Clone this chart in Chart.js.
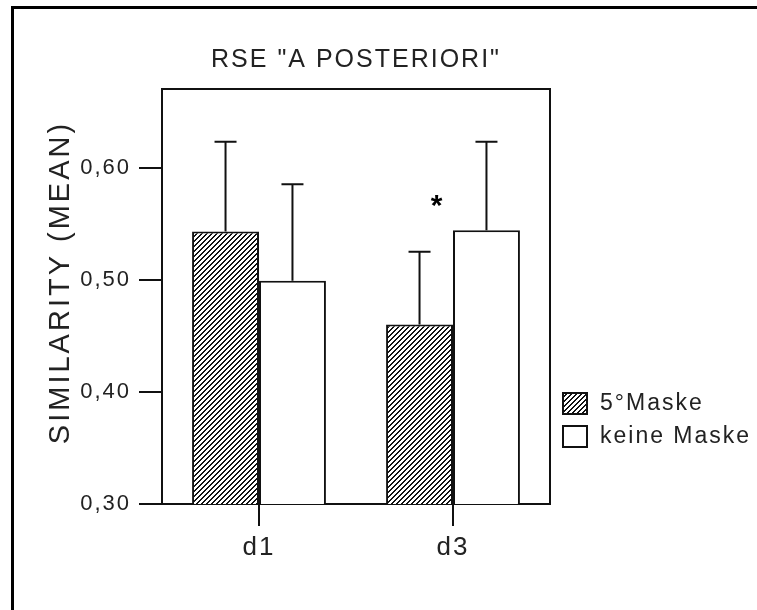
<!DOCTYPE html>
<html>
<head>
<meta charset="utf-8">
<script src="https://cdn.jsdelivr.net/npm/chart.js@4.4.1/dist/chart.umd.min.js"></script>
<style>
  html, body { margin: 0; padding: 0; background: #fff; overflow: hidden; }
  #frame { position: absolute; left: 11px; top: 6px; width: 760px; height: 620px;
           border-left: 3px solid #000; border-top: 3px solid #000; }
  #wrap { position: absolute; left: 0; top: 0; width: 757px; height: 610px; }
</style>
</head>
<body>
<div id="frame"></div>
<div id="wrap"><canvas id="myChart" width="757" height="610"></canvas></div>
<script>
// Werte
const categories = ['d1', 'd3'];
const seriesLabels = ['5°Maske', 'keine Maske'];
const maske5 = [0.543, 0.460];
const maske5Err = [0.080, 0.065];
const keineMaske = [0.499, 0.544];
const keineMaskeErr = [0.086, 0.079];
const starLevel = [null, 0.573];   // "*" über 5°Maske bei d3
const yTicks = [0.30, 0.40, 0.50, 0.60];
const yTickLabels = ['0,30', '0,40', '0,50', '0,60'];
const yTitle = 'SIMILARITY (MEAN)';

(()=>{
  const FONT = "'Liberation Sans', Arial, sans-serif";
  Chart.defaults.font.family = FONT;
  Chart.defaults.color = '#222';

  // Schraffur "/" für 5°Maske
  function hatch() {
    const c = document.createElement('canvas');
    c.width = 5; c.height = 5;
    const g = c.getContext('2d');
    g.fillStyle = '#fff'; g.fillRect(0, 0, 5, 5);
    g.fillStyle = '#111';
    for (let i = 0; i < 5; i++) {
      g.fillRect(i, 4 - i, 1, 1);
      g.fillRect(i, (5 - i) % 5, 1, 1);
    }
    return g.createPattern(c, 'repeat');
  }

  const spacing = {
    id: 'spacing',
    beforeDraw(chart) { chart.ctx.save(); chart.ctx.letterSpacing = '2px'; },
    afterDraw(chart) { chart.ctx.restore(); }
  };

  const box = {
    id: 'box',
    afterDatasetsDraw(chart) {
      const ctx = chart.ctx, a = chart.chartArea;
      ctx.save();
      ctx.strokeStyle = '#111'; ctx.lineWidth = 2;
      ctx.beginPath();
      ctx.moveTo(a.left, a.top); ctx.lineTo(a.right, a.top); ctx.lineTo(a.right, a.bottom);
      ctx.stroke();
      // Achsentitel (etwas oberhalb der Mitte wie im Original)
      ctx.translate(a.left - 101, (a.top + a.bottom) / 2 - 14);
      ctx.rotate(-Math.PI / 2);
      ctx.letterSpacing = '3px';
      ctx.font = '29px ' + FONT;
      ctx.fillStyle = '#222';
      ctx.textAlign = 'center';
      ctx.textBaseline = 'middle';
      ctx.fillText(yTitle, 0, 0);
      ctx.restore();
    }
  };

  const errorBars = {
    id: 'errorBars',
    afterDatasetsDraw(chart) {
      const ctx = chart.ctx, y = chart.scales.y;
      ctx.save();
      ctx.strokeStyle = '#111'; ctx.lineWidth = 2;
      chart.data.datasets.forEach((ds, i) => {
        chart.getDatasetMeta(i).data.forEach((bar, j) => {
          const top = y.getPixelForValue(ds.data[j] + ds.err[j]);
          ctx.beginPath();
          ctx.moveTo(bar.x, bar.y); ctx.lineTo(bar.x, top);
          ctx.moveTo(bar.x - 11, top); ctx.lineTo(bar.x + 11, top);
          ctx.stroke();
        });
      });
      // Signifikanzstern
      const meta = chart.getDatasetMeta(0);
      ctx.fillStyle = '#000';
      ctx.font = 'bold 30px ' + FONT;
      ctx.textAlign = 'center';
      ctx.textBaseline = 'alphabetic';
      starLevel.forEach((v, j) => {
        if (v === null) return;
        ctx.fillText('*', meta.data[j].x + 18, y.getPixelForValue(v) + 17);
      });
      ctx.restore();
    }
  };

  const sideLegend = {
    id: 'sideLegend',
    afterDraw(chart) {
      const ctx = chart.ctx, a = chart.chartArea;
      ctx.save();
      ctx.letterSpacing = '2px';
      ctx.font = '23px ' + FONT;
      ctx.textBaseline = 'middle';
      chart.data.datasets.forEach((ds, i) => {
        const x = a.right + 12, top = a.bottom - 112 + i * 33;
        ctx.fillStyle = ds.backgroundColor;
        ctx.fillRect(x, top, 26, 23);
        ctx.strokeStyle = '#111'; ctx.lineWidth = 2;
        ctx.strokeRect(x + 1, top + 1, 24, 21);
        ctx.fillStyle = '#222';
        ctx.fillText(ds.label, x + 38, top + 12);
      });
      ctx.restore();
    }
  };

  const ctx = document.getElementById('myChart').getContext('2d');
  const myChart = new Chart(ctx, {
    type: 'bar',
    data: {
      labels: categories,
      datasets: [
        { label: seriesLabels[0], data: maske5, err: maske5Err,
          backgroundColor: hatch(), borderColor: '#111', borderWidth: 2 },
        { label: seriesLabels[1], data: keineMaske, err: keineMaskeErr,
          backgroundColor: '#fff', borderColor: '#111', borderWidth: 2 }
      ]
    },
    options: {
      responsive: false,
      animation: false,
      layout: { padding: { left: 39, right: 207, top: 0, bottom: 0 } },
      datasets: { bar: { barPercentage: 1, categoryPercentage: 0.69 } },
      plugins: {
        legend: { display: false },
        tooltip: { enabled: false },
        title: {
          display: true, fullSize: false,
          text: 'RSE "A POSTERIORI"',
          color: '#222',
          font: { size: 25, weight: 'normal' },
          padding: { top: 45, bottom: 14 }
        }
      },
      scales: {
        x: {
          afterFit(s) { s.height = 106; },
          grid: { offset: false, drawOnChartArea: false, tickLength: 22, color: '#111', lineWidth: 2 },
          border: { color: '#111', width: 2 },
          ticks: { font: { size: 26 }, padding: 6, color: '#222' }
        },
        y: {
          min: 0.30, max: 0.67,
          afterFit(s) { s.width = 123; },
          afterBuildTicks(s) { s.ticks = yTicks.map(v => ({ value: v })); },
          grid: { drawOnChartArea: false, tickLength: 23, color: '#111', lineWidth: 2 },
          border: { color: '#111', width: 2 },
          ticks: {
            font: { size: 22 }, padding: 8, color: '#222',
            callback: (v, i) => yTickLabels[i]
          },
          title: { display: false }
        }
      }
    },
    plugins: [spacing, box, errorBars, sideLegend]
  });

  myChart.update();
})();
</script>
</body>
</html>
